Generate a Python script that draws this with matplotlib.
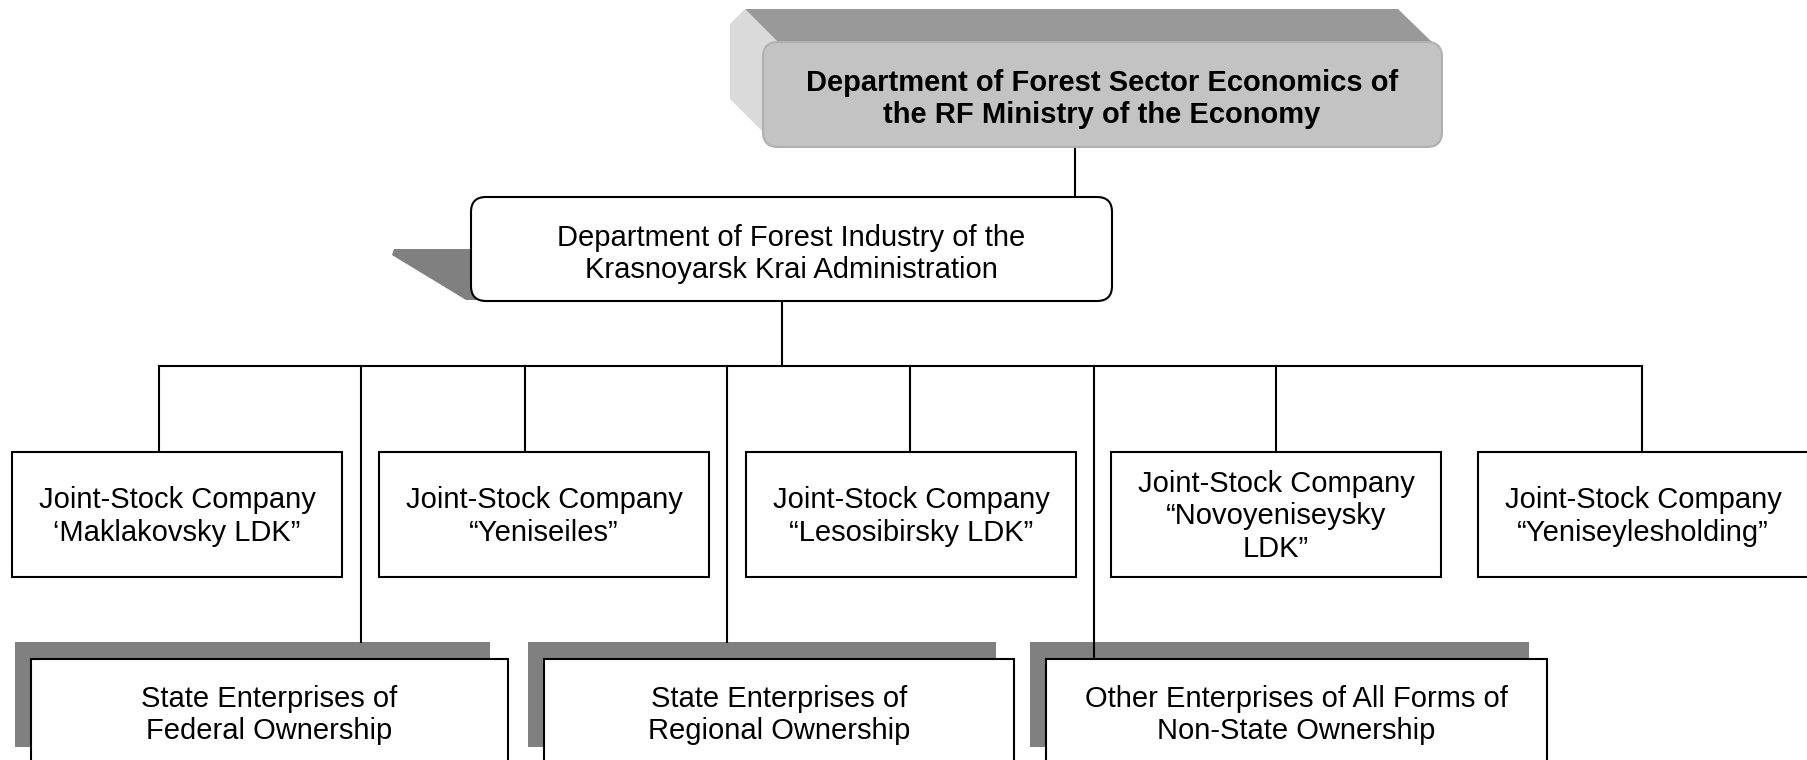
import matplotlib
matplotlib.use("Agg")
import matplotlib.pyplot as plt
from matplotlib.patches import FancyBboxPatch, Rectangle, Polygon

plt.rcParams['font.family'] = ['Liberation Sans', 'DejaVu Sans']

# labels of the chart
top_label = "Department of Forest Sector Economics of\nthe RF Ministry of the Economy"
krai_label = "Department of Forest Industry of the\nKrasnoyarsk Krai Administration"
company_labels = [
    "Joint-Stock Company\n\u2018Maklakovsky LDK\u201d",
    "Joint-Stock Company\n\u201cYeniseiles\u201d",
    "Joint-Stock Company\n\u201cLesosibirsky LDK\u201d",
    "Joint-Stock Company\n\u201cNovoyeniseysky\nLDK\u201d",
    "Joint-Stock Company\n\u201cYeniseylesholding\u201d",
]
enterprise_labels = [
    "State Enterprises of\nFederal Ownership",
    "State Enterprises of\nRegional Ownership",
    "Other Enterprises of All Forms of\nNon-State Ownership",
]

# layout (pixels of the 1807x760 picture)
company_left = [12, 379, 746, 1111, 1478]
company_drop = [159, 525, 910, 1276, 1642]
company_w, company_top, company_h = 330, 452, 125
ent_left = [31, 544, 1046]
ent_width = [477, 470, 501]
ent_drop = [361, 727, 1094]
ent_drop_end = [642, 642, 659]
ent_top, ent_h = 659, 105
bus_y = 366

fig = plt.figure(figsize=(18.07, 7.6), dpi=100)
ax = fig.add_axes([0, 0, 1, 1])
ax.set_xlim(0, 1807)
ax.set_ylim(760, 0)
ax.axis('off')

lw = 1.5
fs = 21

#---------------------------top 3D block-----------------------------
ax.add_patch(Polygon([(730, 24), (745, 9), (778, 42), (763, 57), (763, 132),
                      (778, 147), (745, 114), (730, 99)],
                     closed=True, fc='#dadada', ec='none', zorder=1))
ax.add_patch(Polygon([(745, 9), (1398, 9), (1432, 42), (778, 42)],
                     closed=True, fc='#999999', ec='none', zorder=1))
ax.add_patch(FancyBboxPatch((763, 42), 679, 105,
                            boxstyle="round,pad=0,rounding_size=15",
                            fc='#c3c3c3', ec='#b0b0b0', lw=1.5, zorder=2))
ax.text(1102, 99, top_label, ha='center', va='center', fontsize=fs,
        fontweight='bold', linespacing=1.2, zorder=3)

# connector top -> krai
ax.plot([1075, 1075], [147, 197], color='black', lw=lw, zorder=1)

#---------------------------krai box---------------------------------
ax.add_patch(Polygon([(394, 249), (476, 249), (476, 300), (466, 300), (392, 255)],
                     closed=True, fc='#808080', ec='none', zorder=1))
ax.add_patch(FancyBboxPatch((471, 197), 641, 104,
                            boxstyle="round,pad=0,rounding_size=15",
                            fc='white', ec='black', lw=lw, zorder=2))
ax.text(791, 254, krai_label, ha='center', va='center', fontsize=fs,
        linespacing=1.2, zorder=3)

# connector krai -> bus
ax.plot([782, 782], [301, bus_y], color='black', lw=lw, zorder=1)
ax.plot([company_drop[0], company_drop[-1]], [bus_y, bus_y], color='black', lw=lw, zorder=1)

#---------------------------companies--------------------------------
for left, dx, lab in zip(company_left, company_drop, company_labels):
    ax.plot([dx, dx], [bus_y, company_top], color='black', lw=lw, zorder=1)
    ax.add_patch(Rectangle((left, company_top), company_w, company_h,
                           fc='white', ec='black', lw=lw, zorder=2))
    ax.text(left + company_w / 2, company_top + company_h / 2 + 2, lab,
            ha='center', va='center', fontsize=fs, linespacing=1.2, zorder=3)

#---------------------------enterprises------------------------------
for i, (left, w, dx, lab) in enumerate(zip(ent_left, ent_width, ent_drop, enterprise_labels)):
    ax.add_patch(Rectangle((left - 16, ent_top - 17), w - 2, ent_h,
                           fc='#808080', ec='none', zorder=1))
    ax.plot([dx, dx], [bus_y, ent_drop_end[i]], color='black', lw=lw, zorder=1.5)
    ax.add_patch(Rectangle((left, ent_top), w, ent_h + 5,
                           fc='white', ec='black', lw=lw, zorder=2))
    ax.text(left + w / 2, ent_top + 56, lab, ha='center', va='center',
            fontsize=fs, linespacing=1.22, zorder=3)

fig.savefig("out.png", dpi=100)
